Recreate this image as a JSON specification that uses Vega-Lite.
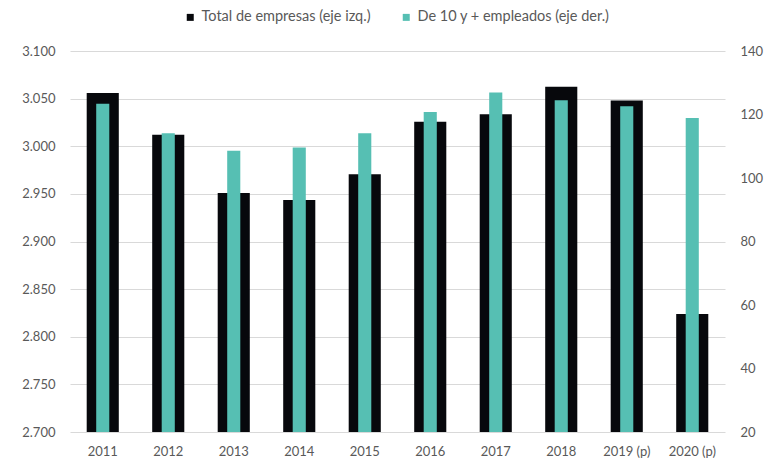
{
  "$schema": "https://vega.github.io/schema/vega-lite/v6.json",
  "autosize": {"type": "none"},
  "width": 655,
  "height": 381,
  "padding": {"left": 70, "top": 51, "right": 39, "bottom": 29},
  "background": "white",
  "config": {
    "locale": {"number": {"decimal": ",", "thousands": ".", "grouping": [3], "currency": ["", "€"]}},
    "font": "Lato",
    "view": {"stroke": null},
    "axis": {"labelFont": "Lato", "labelFontSize": 13, "labelColor": "#595959", "domain": false, "ticks": false, "title": null}
  },
  "data": {
    "values": [
      {"anio": "2011", "total": 3056, "diez": 123.4},
      {"anio": "2012", "total": 3012, "diez": 114.1},
      {"anio": "2013", "total": 2951, "diez": 108.6},
      {"anio": "2014", "total": 2943.5, "diez": 109.6},
      {"anio": "2015", "total": 2970.5, "diez": 114.1},
      {"anio": "2016", "total": 3025.6, "diez": 120.8},
      {"anio": "2017", "total": 3033.7, "diez": 126.9},
      {"anio": "2018", "total": 3062.4, "diez": 124.5},
      {"anio": "2019 (p)", "total": 3048, "diez": 122.6},
      {"anio": "2020 (p)", "total": 2824, "diez": 118.9}
    ]
  },
  "encoding": {
    "x": {
      "field": "anio",
      "type": "ordinal",
      "sort": null,
      "scale": {"paddingInner": 0, "paddingOuter": 0},
      "axis": {"labelAngle": 0, "labelPadding": 13, "grid": false}
    }
  },
  "layer": [
    {
      "mark": {"type": "bar", "width": {"band": 0.49}},
      "encoding": {
        "y": {
          "field": "total",
          "type": "quantitative",
          "scale": {"domain": [2700, 3100], "zero": false, "nice": false},
          "axis": {"orient": "left", "values": [2700, 2750, 2800, 2850, 2900, 2950, 3000, 3050, 3100], "format": ",.0f", "grid": true, "gridColor": "#d9d9d9", "gridWidth": 1, "labelPadding": 15}
        },
        "y2": {"datum": 2700},
        "color": {
          "datum": "Total de empresas (eje izq.)",
          "type": "nominal",
          "scale": {"domain": ["Total de empresas (eje izq.)", "De 10 y + empleados (eje der.)"], "range": ["#07080c", "#56bfb3"]},
          "legend": {
            "orient": "none",
            "direction": "horizontal",
            "legendX": 113,
            "legendY": -41,
            "padding": 0,
            "symbolType": "square",
            "symbolSize": 49,
            "symbolStrokeWidth": 0,
            "labelFont": "Lato",
            "labelFontSize": 14.5,
            "labelColor": "#595959",
            "labelLimit": 400,
            "labelOffset": 4,
            "columnPadding": 28,
            "title": null
          }
        }
      }
    },
    {
      "mark": {"type": "bar", "width": {"band": 0.2}},
      "encoding": {
        "y": {
          "field": "diez",
          "type": "quantitative",
          "scale": {"domain": [20, 140], "zero": false, "nice": false},
          "axis": {"orient": "right", "values": [20, 40, 60, 80, 100, 120, 140], "grid": false, "labelPadding": 15}
        },
        "y2": {"datum": 20},
        "color": {"datum": "De 10 y + empleados (eje der.)", "type": "nominal"}
      }
    }
  ],
  "resolve": {"scale": {"y": "independent"}}
}
